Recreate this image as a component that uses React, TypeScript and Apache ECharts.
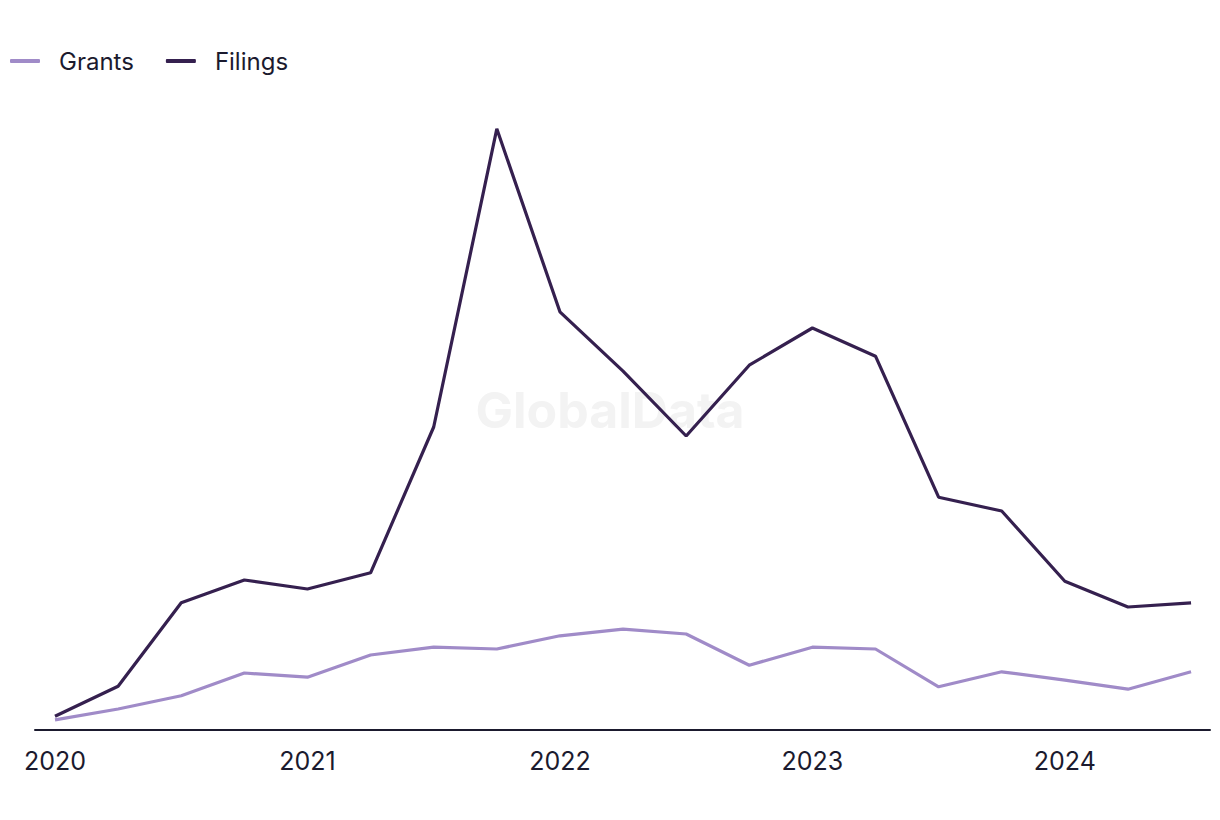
import React, { useEffect, useRef } from "react";
import * as echarts from "echarts";

const quarters = [
  "Q1 2020", "Q2 2020", "Q3 2020", "Q4 2020",
  "Q1 2021", "Q2 2021", "Q3 2021", "Q4 2021",
  "Q1 2022", "Q2 2022", "Q3 2022", "Q4 2022",
  "Q1 2023", "Q2 2023", "Q3 2023", "Q4 2023",
  "Q1 2024", "Q2 2024", "Q3 2024",
];
const yearLabels = ["2020", "2021", "2022", "2023", "2024"];
const grants = [1.7, 3.5, 5.7, 9.5, 8.8, 12.5, 13.8, 13.5, 15.7, 16.8, 16, 10.8, 13.8, 13.5, 7.2, 9.7, 8.3, 6.8, 9.7];
const filings = [2.3, 7.3, 21.2, 25, 23.5, 26.2, 50.5, 100.2, 69.7, 59.8, 49, 60.8, 67, 62.3, 38.8, 36.5, 24.8, 20.5, 21.2];

const TEXT = "#1b1a2e";
const FONT = "Inter, 'Noto Sans', sans-serif";

export default function App() {
  const ref = useRef<HTMLDivElement>(null);
  useEffect(() => {
    document.body.style.margin = "0";
    const chart = echarts.init(ref.current!, undefined, { renderer: "svg" });
    chart.setOption({
      animation: false,
      backgroundColor: "#ffffff",
      textStyle: { fontFamily: FONT },
      graphic: [
        {
          type: "text",
          left: "center",
          top: 385,
          z: -1,
          style: {
            text: "GlobalData",
            fontSize: 50,
            fontWeight: "bold",
            fontFamily: FONT,
            fill: "#f3f3f3",
          },
        },
      ],
      legend: {
        left: 10,
        top: 49,
        padding: 0,
        itemWidth: 30,
        itemHeight: 4,
        itemGap: 32,
        icon: "roundRect",
        textStyle: { fontSize: 24, color: TEXT, fontFamily: FONT, padding: [0, 0, 0, 14] },
        data: ["Grants", "Filings"],
      },
      grid: { left: 35, right: 10, top: 70, bottom: 90 },
      xAxis: {
        type: "value",
        min: -0.317,
        max: 18.3,
        splitLine: { show: false },
        axisTick: { show: false },
        axisLine: { show: true, lineStyle: { color: TEXT, width: 2 } },
        axisLabel: {
          customValues: [0, 4, 8, 12, 16],
          formatter: (v: number) => yearLabels[Math.round(v / 4)] ?? "",
          fontSize: 25,
          color: TEXT,
          margin: 18,
          fontFamily: FONT,
        },
      },
      yAxis: { type: "value", min: 0, max: 110, show: false },
      tooltip: { show: false },
      series: [
        {
          name: "Grants",
          type: "line",
          symbol: "none",
          color: "#a08bc8",
          lineStyle: { width: 3.2, color: "#a08bc8" },
          data: grants.map((v, i) => [i, v, quarters[i]]),
        },
        {
          name: "Filings",
          type: "line",
          symbol: "none",
          color: "#35204f",
          lineStyle: { width: 3.2, color: "#35204f" },
          data: filings.map((v, i) => [i, v, quarters[i]]),
        },
      ],
    });
    return () => chart.dispose();
  }, []);
  return <div ref={ref} style={{ width: 1220, height: 820 }} />;
}
